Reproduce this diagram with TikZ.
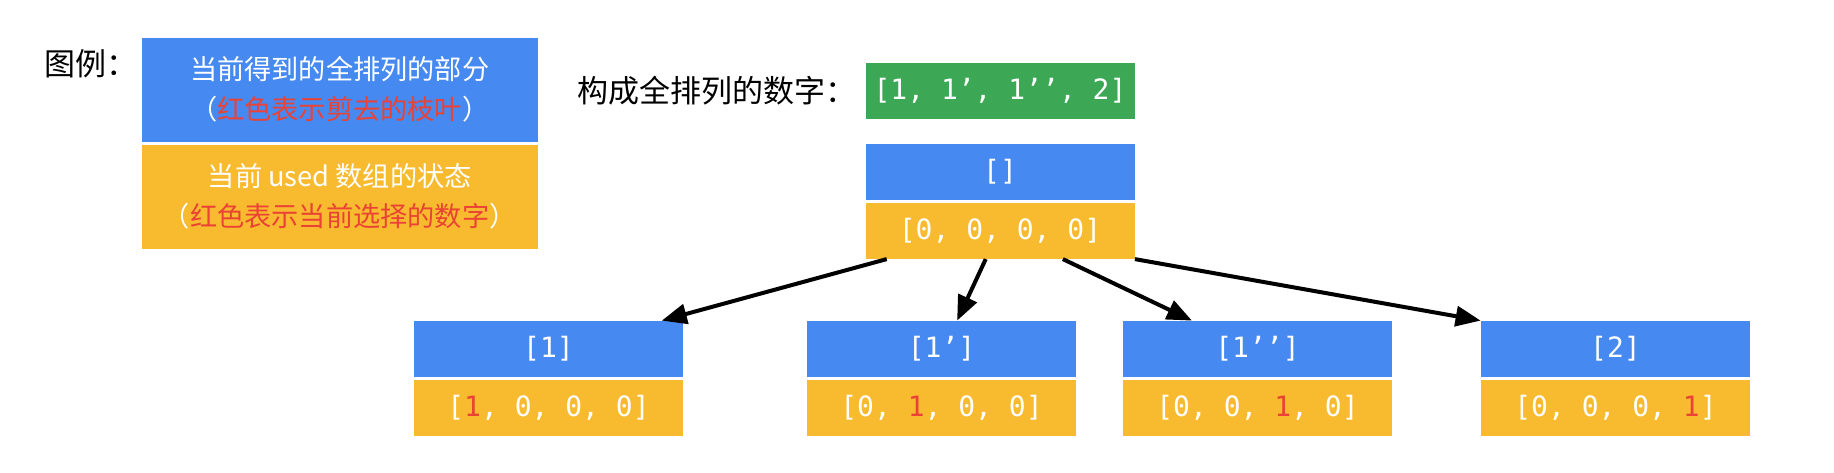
\documentclass[tikz,border=0pt]{standalone}
\usepackage{fontspec}
\usepackage{xcolor}
\usetikzlibrary{positioning,arrows.meta,calc}
\setmainfont{Noto Sans CJK SC}
\newfontfamily\codefont{DejaVu Sans Mono}
\definecolor{partblue}{RGB}{70,137,240}
\definecolor{usedyellow}{RGB}{248,186,46}
\definecolor{numgreen}{RGB}{60,168,85}
\definecolor{cutred}{RGB}{234,67,53}
\newcommand{\redtxt}[1]{\textcolor{cutred}{#1}}
\tikzset{
  part/.style={rectangle,fill=partblue,text=white,minimum width=134.5pt,minimum height=28pt,inner sep=0pt,font=\codefont\fontsize{14pt}{16pt}\selectfont},
  used/.style={part,fill=usedyellow},
  nums/.style={part,fill=numgreen},
  legpart/.style={rectangle,fill=partblue,text=white,align=center,minimum width=198.25pt,minimum height=52pt,inner sep=0pt,font=\fontsize{13.6pt}{20pt}\selectfont},
  legused/.style={legpart,fill=usedyellow},
  caption/.style={inner sep=0pt,font=\fontsize{15.5pt}{18pt}\selectfont},
  edge/.style={-{Triangle[length=12.5pt,width=10pt]},line width=2pt}
}

\begin{document}
\begin{tikzpicture}[x=0.5pt,y=-0.5pt,node distance=1.2pt]
  \useasboundingbox (0,0) rectangle (1834,472);
  % legend
  \node[caption,anchor=west] (leg) at (44,64) {图例：};
  \node[legpart] (legp) at (339.75,89.5) {当前得到的全排列的部分\\（\redtxt{红色表示剪去的枝叶}）};
  \node[legused,below=of legp] (legu) {当前 used 数组的状态\\（\redtxt{红色表示当前选择的数字}）};
  % numbers
  \node[nums] (nums) at (1000,91) {[1, 1’, 1’’, 2]};
  \node[caption,left=4pt of nums] (numl) {构成全排列的数字：};
  % root
  \node[part] (root) at (1000,171.5) {[]};
  \node[used,below=of root] (rootu) {[0, 0, 0, 0]};
  % children
  \node[part] (c1) at (548.5,349) {[1]};
  \node[used,below=of c1] (c1u) {[\redtxt{1}, 0, 0, 0]};
  \node[part] (c2) at (941.5,349) {[1’]};
  \node[used,below=of c2] (c2u) {[0, \redtxt{1}, 0, 0]};
  \node[part] (c3) at (1257.5,349) {[1’’]};
  \node[used,below=of c3] (c3u) {[0, 0, \redtxt{1}, 0]};
  \node[part] (c4) at (1615.5,349) {[2]};
  \node[used,below=of c4] (c4u) {[0, 0, 0, \redtxt{1}]};
  % edges
  \draw[edge] ($(rootu.south west)!0.08!(rootu.south east)$) -- ($(c1.north west)!0.92!(c1.north east)$);
  \draw[edge] ($(rootu.south west)!0.447!(rootu.south east)$) -- ($(c2.north west)!0.558!(c2.north east)$);
  \draw[edge] ($(rootu.south west)!0.733!(rootu.south east)$) -- ($(c3.north west)!0.257!(c3.north east)$);
  \draw[edge] (rootu.south east) -- (c4.north west);
\end{tikzpicture}
\end{document}
